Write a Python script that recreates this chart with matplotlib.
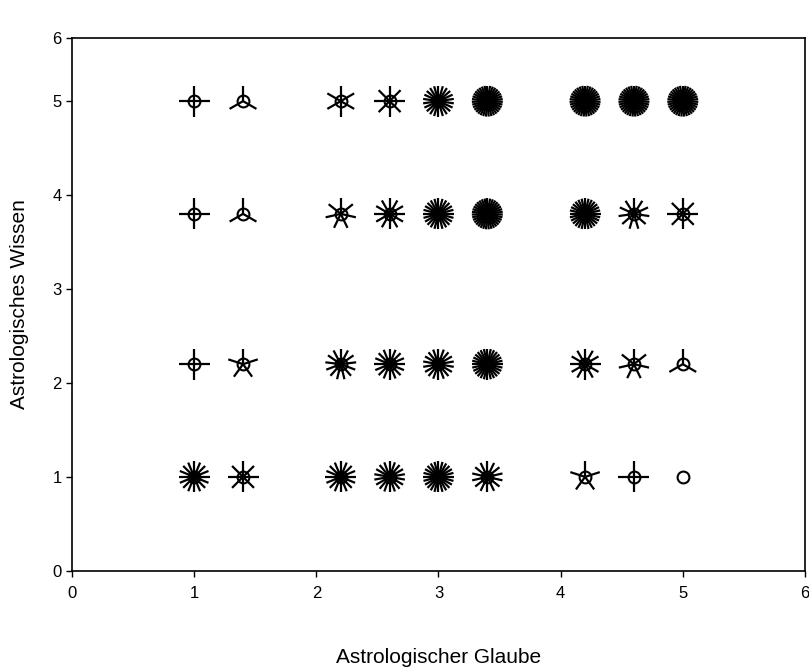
import numpy as np
import matplotlib
matplotlib.use('Agg')
from matplotlib import pyplot as plt

plt.rcParams['font.family'] = ['Liberation Sans', 'DejaVu Sans']

# Sonnenblumen-Diagramm: Anzahl der Fälle je Kombination
glaube = [1, 1.4, 2.2, 2.6, 3, 3.4, 4.2, 4.6, 5]
wissen = [1, 2.2, 3.8, 5]
# Zeilen = wissen, Spalten = glaube
anzahl = [
    [16, 8, 16, 18, 24, 14, 5, 4, 1],    # wissen = 1
    [4, 5, 13, 16, 18, 28, 12, 7, 3],    # wissen = 2.2
    [4, 3, 7, 12, 24, 35, 28, 11, 8],    # wissen = 3.8
    [4, 3, 6, 8, 22, 35, 35, 35, 35],    # wissen = 5
]
y_oben = 5.67  # obere Achsenkante, im Original mit "6" beschriftet
y_ticks = [0, 1, 2, 3, 4, 5, y_oben]
y_labels = ['0', '1', '2', '3', '4', '5', '6']

fig = plt.figure(figsize=(8.09, 6.70), dpi=100)
ax = fig.add_axes([0.089, 0.148, 0.906, 0.795])
ax.set_xlim(0, 6)
ax.set_ylim(0, y_oben)

# Pixel -> Daten, damit die Blätter rund aussehen
ax_w = 0.906 * 809
ax_h = 0.795 * 670
px_x = 6 / ax_w
px_y = y_oben / ax_h
r = 15.5  # Blattlänge in Pixel

for i, y in enumerate(wissen):
    for j, x in enumerate(glaube):
        n = anzahl[i][j]
        if n > 1:
            winkel = np.pi / 2 + 2 * np.pi * np.arange(n) / n
            for w in winkel:
                ax.plot([x, x + r * px_x * np.cos(w)], [y, y + r * px_y * np.sin(w)],
                        color='black', linewidth=1.6, solid_capstyle='butt')
        ax.plot(x, y, marker='o', markersize=8.5, markerfacecolor='none',
                markeredgecolor='black', markeredgewidth=1.5)

ax.set_xticks(range(0, 7))
ax.set_yticks(y_ticks)
ax.set_yticklabels(y_labels)
ax.tick_params(direction='out', length=4, width=1, labelsize=12)
ax.tick_params(axis='x', pad=7)
for s in ax.spines.values():
    s.set_linewidth(1.2)

ax.set_xlabel('Astrologischer Glaube', fontsize=15, labelpad=34)
ax.set_ylabel('Astrologisches Wissen', fontsize=15, labelpad=17)

plt.savefig('out.png', dpi=100)
